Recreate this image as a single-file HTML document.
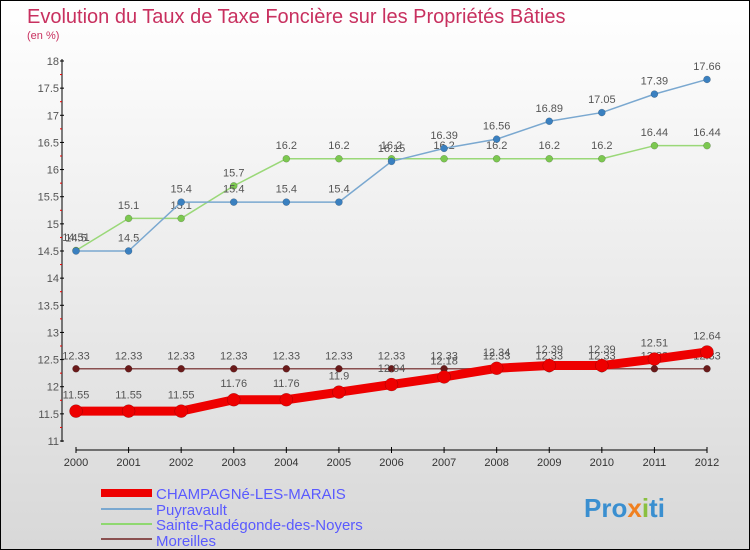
<!DOCTYPE html>
<html><head><meta charset="utf-8"><style>
body{margin:0}
#c{width:748px;height:548px;border:1px solid #000;background:linear-gradient(#fff,#d8d8d8);position:relative;overflow:hidden;font-family:"Liberation Sans",sans-serif}
svg text{font-family:"Liberation Sans",sans-serif}
</style></head><body>
<div id="c">
<svg width="748" height="548" id="s">
<text x="26" y="22" font-size="20" fill="#c8305f">Evolution du Taux de Taxe Foncière sur les Propriétés Bâties</text>
<text x="26" y="38" font-size="11" fill="#c8305f">(en %)</text>
<g id="axes"></g><g id="series"></g>
<g>
<rect x="100" y="488" width="51" height="8" fill="#e00"/>
<text x="155" y="498" font-size="15" fill="#5a5aff">CHAMPAGNé-LES-MARAIS</text>
<rect x="100" y="507" width="51" height="2" fill="#7aa8d0"/>
<text x="155" y="514" font-size="15" fill="#5a5aff">Puyravault</text>
<rect x="100" y="522" width="51" height="2" fill="#8fd870"/>
<text x="155" y="529" font-size="15" fill="#5a5aff">Sainte-Radégonde-des-Noyers</text>
<rect x="100" y="537" width="51" height="2" fill="#8a5050"/>
<text x="155" y="545" font-size="15" fill="#5a5aff">Moreilles</text>
</g>
<text x="583" y="516" font-size="26" font-weight="bold" fill="#3a8fd0">Pro<tspan fill="#f08020">x</tspan><tspan fill="#8ac040">i</tspan>ti</text>
</svg></div>
<script>
const years=[2000,2001,2002,2003,2004,2005,2006,2007,2008,2009,2010,2011,2012];
const champ=[11.55,11.55,11.55,11.76,11.76,11.9,12.04,12.18,12.34,12.39,12.39,12.51,12.64];
const puy=[14.5,14.5,15.4,15.4,15.4,15.4,16.15,16.39,16.56,16.89,17.05,17.39,17.66];
const sainte=[14.51,15.1,15.1,15.7,16.2,16.2,16.2,16.2,16.2,16.2,16.2,16.44,16.44];
const moreilles=[12.33,12.33,12.33,12.33,12.33,12.33,12.33,12.33,12.33,12.33,12.33,12.33,12.33];
const yTicks=[11,11.5,12,12.5,13,13.5,14,14.5,15,15.5,16,16.5,17,17.5,18];
const NS="http://www.w3.org/2000/svg";
const X=i=>75+i*(706-75)/(years.length-1);
const Y=v=>440-(v-11)*(380/7);
function mk(t,a,p){const e=document.createElementNS(NS,t);for(const k in a)e.setAttribute(k,a[k]);p.appendChild(e);return e;}
const ax=document.getElementById('axes'),se=document.getElementById('series');
let e=mk('line',{x1:61,y1:58,x2:61,y2:441,stroke:'#000'},ax);


e=mk('line',{x1:75,y1:449,x2:706,y2:449,stroke:'#000'},ax);


yTicks.forEach((v,i)=>{
 mk('line',{x1:59,y1:Y(v),x2:63,y2:Y(v),stroke:'#000'},ax);
 if(i<yTicks.length-1)mk('line',{x1:59,y1:Y(v+0.25),x2:61,y2:Y(v+0.25),stroke:'#e00'},ax);
 const t=mk('text',{x:58,y:Y(v)+4,'font-size':11,fill:'#555','text-anchor':'end'},ax);t.textContent=String(v);
 
 
});
years.forEach((y,i)=>{
 mk('line',{x1:X(i),y1:446,x2:X(i),y2:452,stroke:'#000'},ax);
 const t=mk('text',{x:X(i),y:465,'font-size':11,fill:'#333','text-anchor':'middle'},ax);t.textContent=y;
 
 
});
function series(d,color,dot,w,r,name){
 const g=mk('g',{},se);
 
 
 mk('polyline',{points:d.map((v,i)=>X(i)+','+Y(v)).join(' '),fill:'none',stroke:color,'stroke-width':w,'stroke-linejoin':'round'},g);
 d.forEach((v,i)=>{
  const c=mk('circle',{cx:X(i),cy:Y(v),r:r,fill:dot,stroke:'rgba(0,0,0,0.3)','stroke-width':0.5},g);
  
  
  const t=mk('text',{x:X(i),y:Y(v)-(r+6),'font-size':11,fill:'#555','text-anchor':'middle'},g);t.textContent=v;
  
  
 });
}
series(moreilles,'#8a5050','#6a1a1a',1.5,3.5,'moreilles');
series(sainte,'#9ad878','#7cc850',1.5,3.5,'sainte');
series(puy,'#7aa8d0','#3a80c0',1.5,3.5,'puyravault');
series(champ,'#e00','#e00',9,6.5,'champagne');
</script>
</body></html>
